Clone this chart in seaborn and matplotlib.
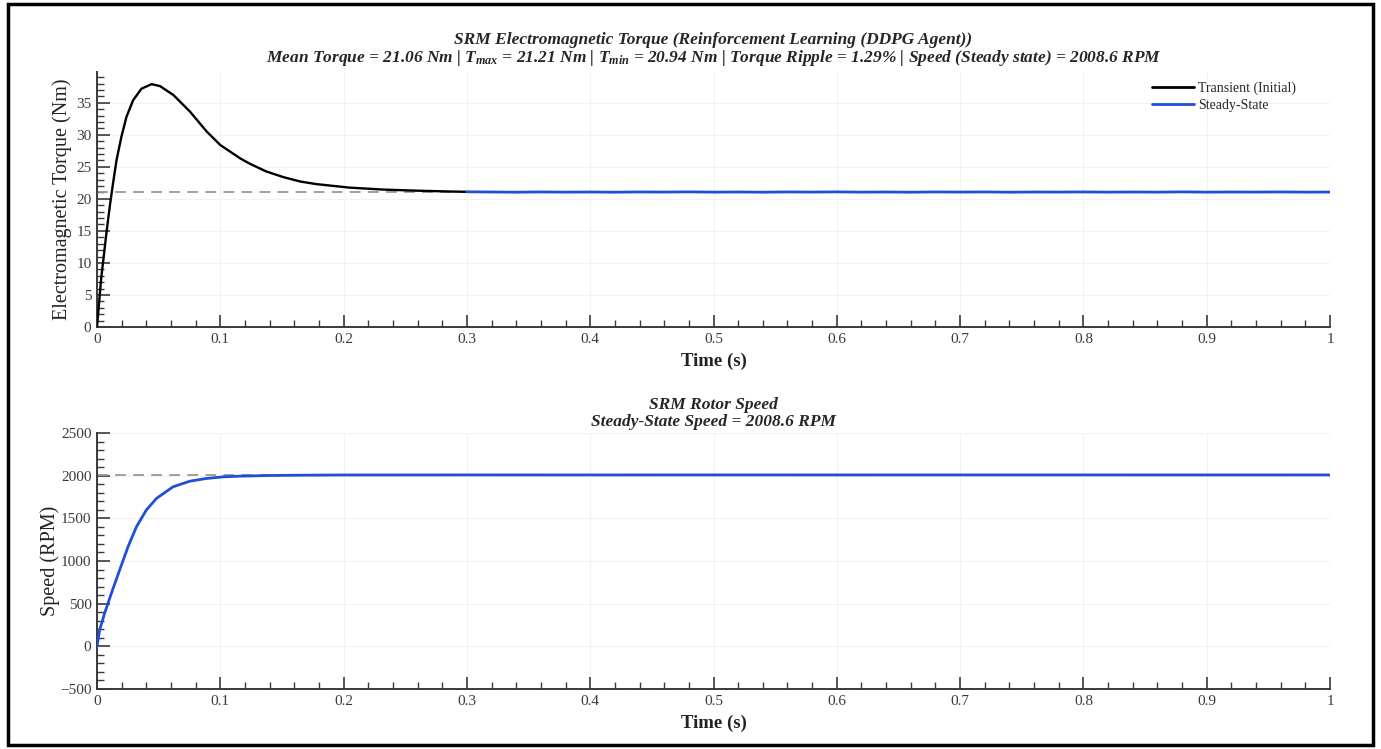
import numpy as np
import pandas as pd
import matplotlib
matplotlib.use("Agg")
import matplotlib.pyplot as plt
from matplotlib.ticker import MultipleLocator
from matplotlib.patches import Rectangle
import seaborn as sns

# ---------------- data ----------------
t_transient = [0, 0.0016, 0.0035, 0.0054, 0.0076, 0.0103, 0.013, 0.0158, 0.0198,
               0.0239, 0.0293, 0.0361, 0.0443, 0.0511, 0.062, 0.0755, 0.089,
               0.1, 0.1163, 0.1238, 0.137, 0.151, 0.165, 0.178, 0.205, 0.232,
               0.259, 0.286, 0.3]
torque_transient = [0, 3.6, 7.8, 10.9, 14.6, 18.75, 22.4, 26.0, 29.7,
                    32.8, 35.4, 37.2, 37.9, 37.6, 36.2, 33.6, 30.5,
                    28.4, 26.3, 25.5, 24.3, 23.4, 22.7, 22.3, 21.75, 21.45,
                    21.28, 21.15, 21.1]

t_steady = [0.30, 0.32, 0.34, 0.36, 0.38, 0.40, 0.42, 0.44, 0.46, 0.48, 0.50,
            0.52, 0.54, 0.56, 0.58, 0.60, 0.62, 0.64, 0.66, 0.68, 0.70, 0.72,
            0.74, 0.76, 0.78, 0.80, 0.82, 0.84, 0.86, 0.88, 0.90, 0.92, 0.94,
            0.96, 0.98, 1.00]
torque_steady = [21.10, 21.07, 21.04, 21.08, 21.05, 21.07, 21.04, 21.08, 21.06,
                 21.09, 21.05, 21.07, 21.04, 21.08, 21.06, 21.09, 21.05, 21.07,
                 21.04, 21.08, 21.06, 21.08, 21.04, 21.07, 21.06, 21.08, 21.05,
                 21.07, 21.05, 21.09, 21.05, 21.07, 21.06, 21.08, 21.05, 21.06]

t_speed = [0, 0.0022, 0.0062, 0.0117, 0.0184, 0.0252, 0.032, 0.040, 0.0482,
           0.0616, 0.0752, 0.0887, 0.1022, 0.1157, 0.14, 0.17, 0.2, 0.3, 0.4,
           0.5, 0.6, 0.7, 0.8, 0.9, 1.0]
speed = [0, 195, 389, 623, 896, 1168, 1402, 1597, 1733,
         1869, 1935, 1967, 1986, 1994, 2002, 2006, 2008, 2008.6, 2008.4,
         2008.7, 2008.5, 2008.8, 2008.6, 2008.5, 2008.6]

mean_torque = 21.06
steady_speed = 2008.6

time_ticks = [0, 0.1, 0.2, 0.3, 0.4, 0.5, 0.6, 0.7, 0.8, 0.9, 1]
time_labels = ["0", "0.1", "0.2", "0.3", "0.4", "0.5", "0.6", "0.7", "0.8", "0.9", "1"]

# ---------------- style ----------------
sns.set_style("white")
plt.rcParams["font.family"] = ["Liberation Serif", "DejaVu Serif"]
plt.rcParams["mathtext.fontset"] = "custom"
plt.rcParams["mathtext.it"] = "Liberation Serif:italic:bold"
plt.rcParams["mathtext.rm"] = "Liberation Serif:italic:bold"

BLUE = "#1f4fd6"
SPINE = "#3a3a3a"

fig = plt.figure(figsize=(13.81, 7.49), dpi=100)
W, H = 1381, 749
ax1 = fig.add_axes([97 / W, (H - 327) / H, (1330 - 97) / W, (327 - 72) / H])
ax2 = fig.add_axes([97 / W, (H - 689) / H, (1330 - 97) / W, (689 - 433) / H])

df_tr = pd.DataFrame({"t": t_transient, "T": torque_transient})
df_ss = pd.DataFrame({"t": t_steady, "T": torque_steady})
df_sp = pd.DataFrame({"t": t_speed, "S": speed})

ax1.axhline(mean_torque, color="#999999", ls=(0, (6, 4)), lw=1.3, zorder=1)
sns.lineplot(data=df_tr, x="t", y="T", ax=ax1, color="black", lw=1.7,
             label="Transient (Initial)", zorder=3)
sns.lineplot(data=df_ss, x="t", y="T", ax=ax1, color=BLUE, lw=2.0,
             label="Steady-State", zorder=3)

ax2.axhline(steady_speed, color="#999999", ls=(0, (6, 4)), lw=1.3, zorder=1)
sns.lineplot(data=df_sp, x="t", y="S", ax=ax2, color=BLUE, lw=2.0, zorder=3)

for ax, ylim, ymaj, ymin in [(ax1, (0, 39.8), 5, 1), (ax2, (-500, 2500), 500, 100)]:
    ax.set_xlim(0, 1)
    ax.set_ylim(*ylim)
    ax.set_xticks(time_ticks)
    ax.set_xticklabels(time_labels)
    ax.xaxis.set_minor_locator(MultipleLocator(0.02))
    ax.yaxis.set_major_locator(MultipleLocator(ymaj))
    ax.yaxis.set_minor_locator(MultipleLocator(ymin))
    ax.tick_params(which="major", direction="in", length=9, width=1.2,
                   color=SPINE, labelsize=11, labelcolor="#3a3a3a", pad=4)
    ax.tick_params(which="minor", direction="in", length=5, width=1.0, color=SPINE)
    ax.tick_params(axis="both", which="both", bottom=True, left=True,
                   top=False, right=False)
    for s in ["top", "right"]:
        ax.spines[s].set_visible(False)
    for s in ["left", "bottom"]:
        ax.spines[s].set_color(SPINE)
        ax.spines[s].set_linewidth(1.4)
    ax.grid(True, which="major", color="#f2f2f2", lw=0.8)
    ax.set_axisbelow(True)
    ax.set_xlabel("Time (s)", fontsize=13.5, fontweight="bold", color="#222222",
                  labelpad=5)

ax1.set_ylabel("Electromagnetic Torque (Nm)", fontsize=14.5, color="#222222",
               labelpad=3)
ax2.set_ylabel("Speed (RPM)", fontsize=14.5, color="#222222", labelpad=0)

ax1.set_title("SRM Electromagnetic Torque (Reinforcement Learning (DDPG Agent))\n"
              r"Mean Torque = 21.06 Nm | $T_{max}$ = 21.21 Nm | $T_{min}$ = 20.94 Nm"
              r" | Torque Ripple = 1.29% | Speed (Steady state) = 2008.6 RPM",
              fontsize=12.5, fontweight="bold", style="italic", pad=7, linespacing=1.05)
ax2.set_title("SRM Rotor Speed\nSteady-State Speed = 2008.6 RPM",
              fontsize=12.5, fontweight="bold", style="italic", pad=5, linespacing=1.05)

leg = ax1.legend(loc="upper right", bbox_to_anchor=(0.979, 0.995), frameon=False,
                 fontsize=10, handlelength=3.0, handletextpad=0.3,
                 borderaxespad=0.2, labelspacing=0.25)
for line in leg.get_lines():
    line.set_linewidth(2.0)

fig.patches.append(Rectangle((8 / W, 4 / H), (1373 - 8) / W, (745 - 4) / H,
                             transform=fig.transFigure, fill=False,
                             edgecolor="black", lw=2.5))

fig.savefig("out.png", dpi=100)
